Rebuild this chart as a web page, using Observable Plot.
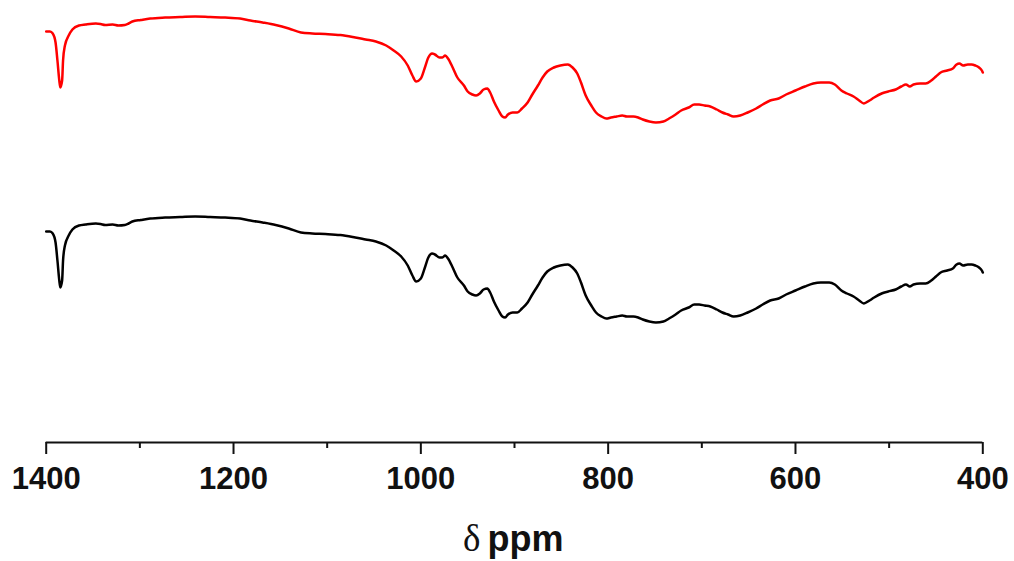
<!DOCTYPE html>
<html>
<head>
<meta charset="utf-8">
<script src="https://cdn.jsdelivr.net/npm/d3@7"></script>
<script src="https://cdn.jsdelivr.net/npm/@observablehq/plot@0.6"></script>
<style>
  html, body { margin: 0; padding: 0; background: #fff; }
  #chart svg { display: block; background: #fff; }
</style>
</head>
<body>
<div id="chart"></div>
<script>
// Chemical shift / wavenumber positions (ppm)
const ppm = [1400,1396,1393,1390,1388,1386,1385,1383,1382,1380,1376,1372,1365,1358,1347,1342,1337,1329,1323,1316,1312,1308,1299,1289,1273,1257,1241,1225,1209,1193,1182,1169,1155,1141,1128,1116,1102,1086,1070,1059,1048,1037,1029,1021,1014,1009,1005,1000,996,992,988,985,980,977,974,971,966,961,954,950,945,941,937,933,929,926,922,917,913,910,907,902,897,892,886,881,875,870,865,858,851,843,838,833,829,824,818,813,807,802,797,791,785,780,773,768,763,756,749,741,735,728,722,714,708,703,697,691,684,678,672,666,659,651,642,635,627,618,610,600,590,581,573,564,558,551,545,538,532,527,521,516,508,501,493,487,482,478,474,467,461,455,450,445,438,432,428,425,421,416,412,408,404,401,400];

// Upper (red) spectrum, arbitrary units
const redSpectrum = [411,411,409,400,382,362,355,362,382,397,407,413,417,418,419,418.5,417.5,418,417,417.5,419,421,422.5,424,425,425.5,426,425.5,425,424,422,420,417.5,414,410,409,408.5,407.5,405,403,401,397,392,386,377,367,361,364,374,385,389,388,385,385,387,384,375,365,357,351,348,347,349,353,354,350,341,332,326,325,328,330,330,334,340,348,357,365,371,375,377,378,375,369,360,347,337,330,326,324,325,326,327,326,326,325,323,321,320,321,324,328,332,335,338,338,337,336,333,330,328,326,327,330,334,338,342,344,348,352,356,359,360,360,358,352,349,346,342,339,342,345,349,351,353,356,358,356,358,359,359,362,366,370,372,374,378,379,377,378,378,377,375,372,370];

// Lower (black) spectrum, arbitrary units
const blackSpectrum = [211,211,209,200,182,162,155,162,182,197,207,213,217,218,219,218.5,217.5,218,217,217.5,219,221,222.5,224,225,225.5,226,225.5,225,224,222,220,217.5,214,210,209,208.5,207.5,205,203,201,197,192,186,177,167,161,164,174,185,189,188,185,185,187,184,175,165,157,151,148,147,149,153,154,150,141,132,126,125,128,130,130,134,140,148,157,165,171,175,177,178,175,169,160,147,137,130,126,124,125,126,127,126,126,125,123,121,120,121,124,128,132,135,138,138,137,136,133,130,128,126,127,130,134,138,142,144,148,152,156,159,160,160,158,152,149,146,142,139,142,145,149,151,153,156,158,156,158,159,159,162,166,170,172,174,178,179,177,178,178,177,175,172,170];

const majorTicks = [1400, 1200, 1000, 800, 600, 400];
const minorTicks = [1300, 1100, 900, 700, 500];
const axisSymbol = "δ";
const axisUnit = "ppm";

const series = [
  {name: "red", color: "#ec1c24", values: redSpectrum},
  {name: "black", color: "#111111", values: blackSpectrum}
];
const rows = series.flatMap(s => ppm.map((x, i) => ({x, y: s.values[i], series: s.name})));

const font = "'Liberation Sans', Arial, sans-serif";

const chart = Plot.plot({
  width: 1014,
  height: 561,
  marginLeft: 45.7,
  marginRight: 31.7,
  marginTop: 0,
  marginBottom: 119,
  style: {fontFamily: font, background: "#fff", overflow: "visible"},
  x: {domain: [1400, 400], axis: null, label: null},
  y: {domain: [0, 442], axis: null, label: null},
  color: {domain: series.map(s => s.name), range: series.map(s => s.color)},
  marks: [
    Plot.line(rows, {x: "x", y: "y", z: "series", stroke: "series", strokeWidth: 2.5, curve: "monotone-x"}),
    Plot.ruleY([0], {strokeWidth: 2, stroke: "#111"}),
    Plot.axisX({ticks: majorTicks, tickSize: 12, tickPadding: 12, tickFormat: d => String(d),
      fontSize: 31, fontWeight: "bold", fill: "#111", stroke: "#111", strokeWidth: 2, label: null}),
    Plot.axisX({ticks: minorTicks, tickSize: 6, tickFormat: () => "", stroke: "#111", strokeWidth: 2, label: null}),
    Plot.text([axisSymbol], {text: d => d, frameAnchor: "bottom", dy: 108, dx: -34, lineAnchor: "bottom",
      textAnchor: "end", fontSize: 37, fontFamily: "'Liberation Serif', 'DejaVu Serif', serif", fill: "#111"}),
    Plot.text([axisUnit], {text: d => d, frameAnchor: "bottom", dy: 108, dx: -27, lineAnchor: "bottom",
      textAnchor: "start", fontSize: 36, fontWeight: "bold", fill: "#111"})
  ]
});
document.getElementById("chart").appendChild(chart);
</script>
</body>
</html>
